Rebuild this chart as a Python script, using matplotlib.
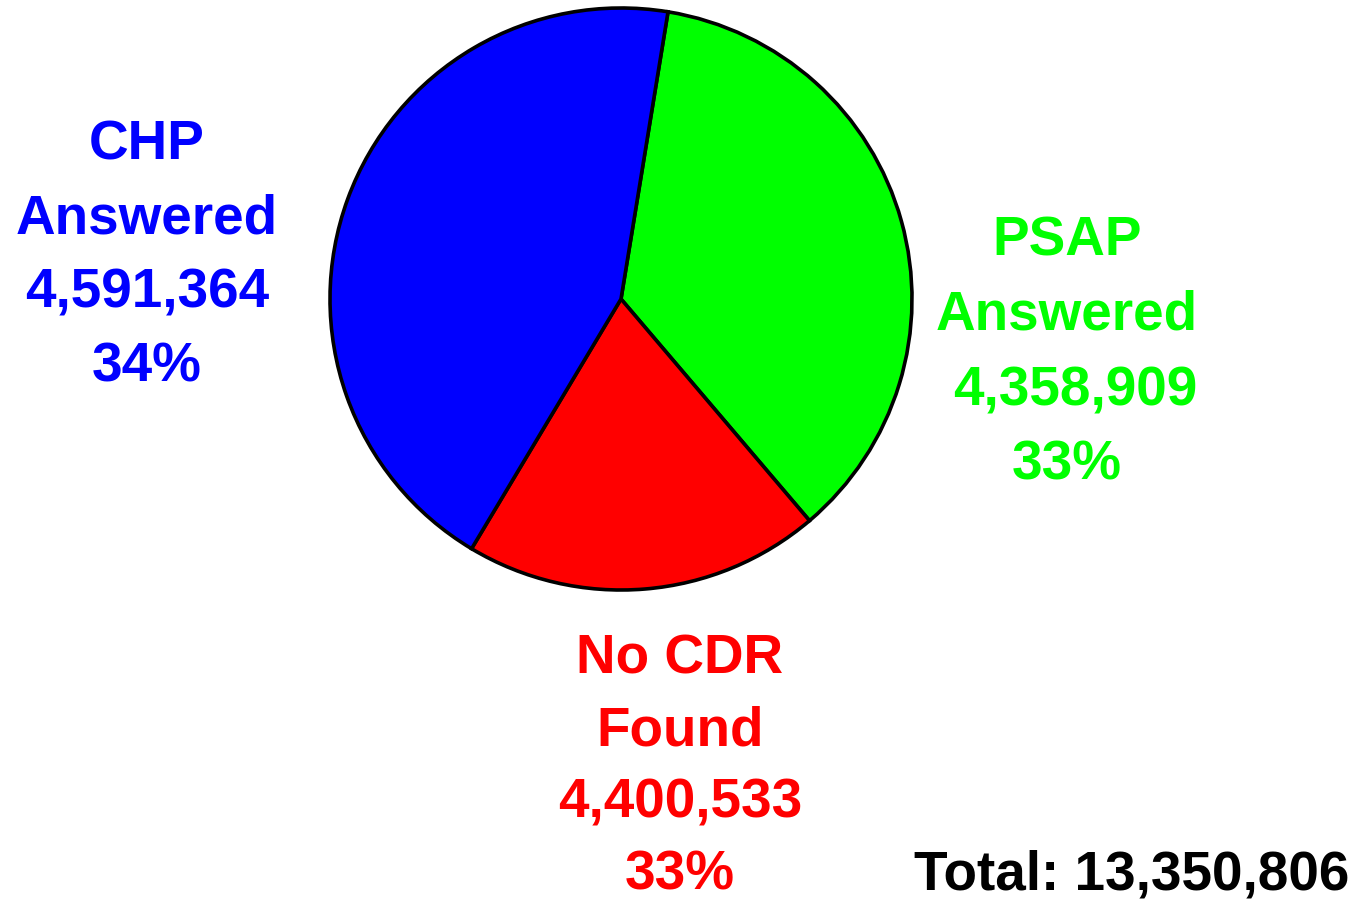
import matplotlib
matplotlib.use("Agg")
import matplotlib.pyplot as plt

# Data
categories = ["PSAP\nAnswered", "No CDR\nFound", "CHP\nAnswered"]
counts = [4358909, 4400533, 4591364]
percent_labels = ["33%", "33%", "34%"]
# wedge shares as drawn in the reference picture (percent of circle)
wedge_shares = [36.2, 19.8, 44.0]
colors = ["#00FF00", "#FF0000", "#0000FF"]
total = 13350806

W, H = 1355, 901
fig = plt.figure(figsize=(W / 100, H / 100), dpi=100)
ax = fig.add_axes([0, 0, 1, 1])
ax.set_xlim(0, W)
ax.set_ylim(0, H)
ax.axis("off")

ax.pie(wedge_shares, colors=colors, startangle=80.7, counterclock=False,
       center=(621, H - 299), radius=291,
       wedgeprops=dict(edgecolor="black", linewidth=2.6))
ax.set_xlim(0, W)
ax.set_ylim(0, H)

font = dict(family=["Liberation Sans", "DejaVu Sans"], fontweight="bold", fontsize=39.5)

# label block positions (x centre, y of first line centre) in pixels from top
positions = [(1067, 241, 75), (680, 660, 72), (147, 145, 74)]
for cat, cnt, pct, col, (x, y0, dy) in zip(categories, counts, percent_labels, colors, positions):
    lines = cat.split("\n") + [f"{cnt:,}", pct]
    for i, line in enumerate(lines):
        xx = x + (8 if (i == 2 and col == "#00FF00") else 0)
        ax.text(xx, H - (y0 + i * dy), line, color=col, ha="center", va="center", **font)

ax.text(1132, H - 875, f"Total: {total:,}", color="black", ha="center", va="center", **font)

fig.savefig("out.png", dpi=100)
